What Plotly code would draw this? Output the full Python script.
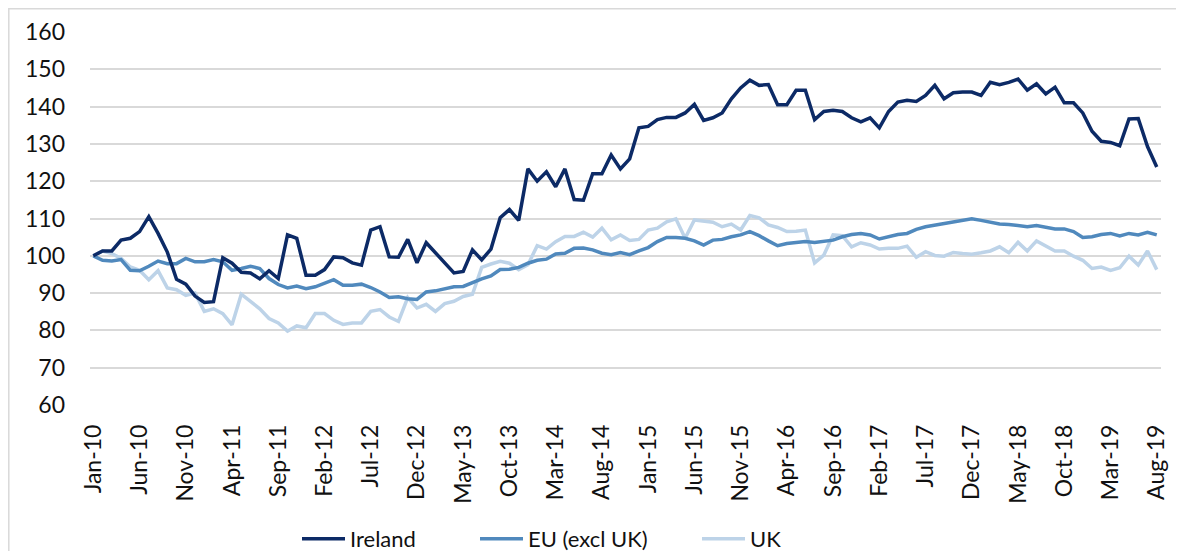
import plotly.graph_objects as go

tick_labels = ["Jan-10", "Jun-10", "Nov-10", "Apr-11", "Sep-11", "Feb-12", "Jul-12", "Dec-12",
               "May-13", "Oct-13", "Mar-14", "Aug-14", "Jan-15", "Jun-15", "Nov-15", "Apr-16",
               "Sep-16", "Feb-17", "Jul-17", "Dec-17", "May-18", "Oct-18", "Mar-19", "Aug-19"]

ireland = [100, 101.3, 101.3, 104.2, 104.7, 106.5, 110.5, 106, 101, 93.7,
           92.4, 89.2, 87.5, 87.7, 99.5, 98, 95.6, 95.4, 93.8, 96,
           93.9, 105.6, 104.7, 94.8, 94.8, 96.3, 99.7, 99.5, 98.1, 97.5,
           106.9, 107.8, 99.7, 99.6, 104.4, 98.1, 103.5, 100.8, 98.4, 95.4,
           95.8, 101.6, 98.9, 101.8, 110.2, 112.4, 109.5, 123.3, 120, 122.5,
           118.5, 123.3, 115.1, 114.9, 122, 122, 127, 123.3, 126, 134.3,
           134.7, 136.5, 137.1, 137.1, 138.3, 140.6, 136.3, 137, 138.3, 142.1,
           145, 147.1, 145.7, 145.9, 140.5, 140.5, 144.4, 144.4, 136.5, 138.7,
           139, 138.7, 137, 135.9, 137, 134.3, 138.7, 141.2, 141.7, 141.4,
           143, 145.7, 142.1, 143.7, 143.9, 143.9, 143, 146.5, 145.9, 146.5,
           147.4, 144.4, 146.1, 143.4, 145.2, 141, 141, 138.3, 133.4, 130.7,
           130.4, 129.5, 136.7, 136.8, 129.3, 123.8]

eu_excl_uk = [100, 98.8, 98.6, 99, 96.1, 96, 97.2, 98.6, 97.9, 97.9,
              99.3, 98.4, 98.4, 99, 98.4, 96.1, 96.6, 97.2, 96.6, 93.9,
              92.3, 91.4, 91.9, 91.2, 91.7, 92.6, 93.6, 92.1, 92.1, 92.4,
              91.5, 90.3, 88.8, 89, 88.5, 88.3, 90.3, 90.6, 91.2, 91.7,
              91.8, 92.9, 93.8, 94.6, 96.3, 96.4, 96.9, 98, 98.8, 99.1,
              100.5, 100.7, 102, 102.1, 101.6, 100.7, 100.3, 100.9, 100.3, 101.3,
              102.2, 103.8, 104.9, 104.9, 104.7, 104, 102.9, 104.2, 104.4, 105.1,
              105.6, 106.5, 105.4, 104, 102.7, 103.3, 103.6, 103.8, 103.6, 103.8,
              104.2, 105.1, 105.7, 106, 105.6, 104.5, 105.1, 105.7, 106, 107.1,
              107.8, 108.2, 108.7, 109.2, 109.5, 109.9, 109.5, 109, 108.5, 108.4,
              108, 107.8, 108.1, 107.6, 107.2, 107.2, 106.5, 104.9, 105.1, 105.7,
              106, 105.3, 106, 105.6, 106.3, 105.6]

uk = [100, 101.3, 100.6, 99.3, 97, 96.1, 93.6, 96, 91.4, 90.9,
      89.4, 90, 85.1, 85.8, 84.5, 81.5, 89.7, 87.6, 85.8, 83.2,
      82, 79.8, 81.2, 80.7, 84.5, 84.5, 82.7, 81.6, 82, 82,
      85.1, 85.6, 83.6, 82.4, 88.8, 86, 87, 85.1, 87.2, 87.8,
      89.1, 89.7, 96.9, 97.8, 98.5, 98, 96.3, 97.6, 102.7, 101.8,
      103.8, 105.2, 105.2, 106.3, 105, 107.4, 104.3, 105.6, 104.1, 104.4,
      106.9, 107.4, 109.1, 109.9, 104.7, 109.6, 109.4, 109, 107.8, 108.5,
      106.9, 110.8, 110.2, 108.3, 107.6, 106.5, 106.6, 106.9, 98.1, 100.2,
      105.6, 105.4, 102.4, 103.5, 102.9, 101.8, 102, 102, 102.6, 99.6,
      101.1, 100.1, 99.9, 100.9, 100.6, 100.4, 100.8, 101.3, 102.4, 100.8,
      103.6, 101.3, 104, 102.7, 101.3, 101.3, 99.9, 98.8, 96.6, 97,
      96.1, 96.8, 99.9, 97.5, 101.3, 96.3]

y_ticks = [60, 70, 80, 90, 100, 110, 120, 130, 140, 150, 160]

x_idx = list(range(len(ireland)))
tick_pos = list(range(0, len(ireland), 5))

FONT = "Lato, 'Open Sans', sans-serif"
OFF = 8  # default page body margin
W, H = 1168, 543
L, T = 90 - OFF, 32 - OFF
R = W - (1161 - OFF)
B = H - (405 - OFF)
pw, ph = W - L - R, H - T - B

def px_x(p):  # page pixel -> paper x
    return (p - OFF - L) / pw

def px_y(p):  # page pixel -> paper y
    return (H - B - (p - OFF)) / ph

fig = go.Figure()
series = [("Ireland", ireland, "#0c2a66", "legend"),
          ("EU (excl UK)", eu_excl_uk, "#5089bd", "legend2"),
          ("UK", uk, "#bdd3e8", "legend3")]
for name, vals, col, lg in reversed(series):
    fig.add_trace(go.Scatter(x=x_idx, y=vals, name=name, mode="lines",
                             line=dict(color=col, width=3.5), legend=lg))

leg_common = dict(orientation="h", yanchor="middle", xanchor="left",
                  font=dict(family=FONT, size=22, color="#111"),
                  bgcolor="rgba(0,0,0,0)", itemwidth=43)

fig.update_layout(
    width=W, height=H,
    margin=dict(l=L, r=R, t=T, b=B, autoexpand=False),
    paper_bgcolor="white", plot_bgcolor="white",
    font=dict(family=FONT, size=23, color="#111"),
    showlegend=True,
    legend=dict(x=px_x(297), y=px_y(539), **leg_common),
    legend2=dict(x=px_x(475), y=px_y(539), **leg_common),
    legend3=dict(x=px_x(697), y=px_y(539), **leg_common),
    xaxis=dict(range=[-0.36, len(ireland) - 1 + 0.46], tickmode="array",
               tickvals=tick_pos, ticktext=tick_labels, tickangle=-90,
               showgrid=False, zeroline=False, showline=False, ticks="",
               ticklabelstandoff=14, automargin=False,
               tickfont=dict(family=FONT, size=23, color="#111")),
    yaxis=dict(range=[60, 160], tickmode="array", tickvals=y_ticks,
               showgrid=True, gridcolor="#d9d9d9", gridwidth=1.6,
               zeroline=False, showline=False, ticks="",
               ticklabelstandoff=24, automargin=False,
               tickfont=dict(family=FONT, size=23, color="#111")),
    shapes=[dict(type="rect", xref="paper", yref="paper",
                 x0=px_x(8.8), x1=px_x(1200), y0=px_y(580), y1=px_y(8.8),
                 line=dict(color="#d9d9d9", width=1.5), layer="below")],
)

fig.write_html("out.html")
